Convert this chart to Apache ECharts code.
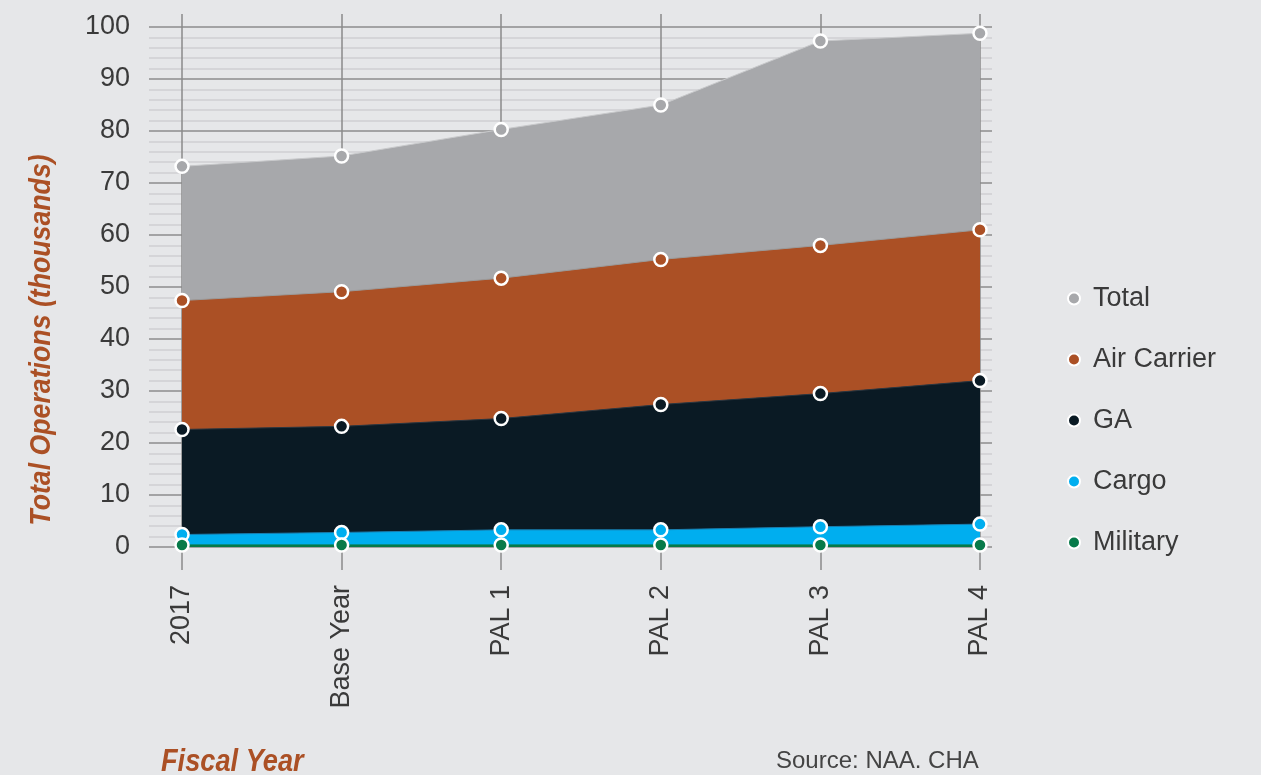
<!DOCTYPE html>
<html>
<head>
<meta charset="utf-8">
<script src="https://cdn.jsdelivr.net/npm/echarts@6/dist/echarts.min.js"></script>
<style>
  html, body { margin: 0; padding: 0; background: #e6e7e9; }
  #chart { width: 1261px; height: 775px; }
</style>
</head>
<body>
<div id="chart"></div>
<script>
var years = ['2017', 'Base Year', 'PAL 1', 'PAL 2', 'PAL 3', 'PAL 4'];
var total = [73.2, 75.2, 80.3, 85.0, 97.3, 98.8];
var airCarrier = [47.4, 49.1, 51.7, 55.3, 58.0, 61.0];
var ga = [22.6, 23.2, 24.7, 27.4, 29.5, 32.0];
var cargo = [2.4, 2.8, 3.3, 3.3, 3.9, 4.4];
var military = [0.4, 0.4, 0.4, 0.4, 0.4, 0.4];

var yTicks = [0, 10, 20, 30, 40, 50, 60, 70, 80, 90, 100];

var colors = {
    total: '#a7a8ab',
    air: '#ab5025',
    ga: '#0a1a24',
    cargo: '#00aeef',
    military: '#077a4a'
};

var font = "'Liberation Sans', Arial, sans-serif";
var textColor = '#3a3a3a';

function areaSeries(name, data, color, edge) {
    return {
        name: name,
        type: 'line',
        xAxisIndex: 1,
        yAxisIndex: 1,
        data: data,
        symbol: 'circle',
        symbolSize: 13,
        showSymbol: true,
        itemStyle: { color: color, borderColor: '#ffffff', borderWidth: 2.5 },
        lineStyle: { color: edge, width: 1 },
        areaStyle: { color: color, opacity: 1 },
        emphasis: { disabled: true }
    };
}

var chart = echarts.init(document.getElementById('chart'));
var option = {
    backgroundColor: '#e6e7e9',
    animation: false,
    textStyle: { fontFamily: font },
    graphic: [
        {
            type: 'text',
            x: 42,
            y: 340,
            rotation: Math.PI / 2,
            scaleX: 0.89,
            style: {
                text: 'Total Operations (thousands)',
                fontFamily: font,
                fontSize: 30,
                fontWeight: 'bold',
                fontStyle: 'italic',
                fill: '#ab5025',
                align: 'center',
                verticalAlign: 'middle'
            }
        },
        {
            type: 'text',
            x: 161,
            y: 762,
            scaleX: 0.85,
            style: {
                text: 'Fiscal Year',
                fontFamily: font,
                fontSize: 32,
                fontWeight: 'bold',
                fontStyle: 'italic',
                fill: '#ab5025',
                align: 'left',
                verticalAlign: 'middle'
            }
        },
        {
            type: 'text',
            x: 776,
            y: 761,
            style: {
                text: 'Source: NAA. CHA',
                fontFamily: font,
                fontSize: 24,
                fill: '#444444',
                align: 'left',
                verticalAlign: 'middle'
            }
        }
    ],
    legend: {
        orient: 'vertical',
        left: 1062,
        top: 280,
        icon: 'circle',
        itemWidth: 12,
        itemHeight: 12,
        itemGap: 34,
        data: ['Total', 'Air Carrier', 'GA', 'Cargo', 'Military'],
        textStyle: { fontSize: 27, color: textColor, fontFamily: font, padding: [0, 0, 0, 8] }
    },
    grid: [
        { left: 149, right: 269, top: 27, bottom: 228 },
        { left: 182, right: 281, top: 14, bottom: 228 }
    ],
    xAxis: [
        {
            gridIndex: 0,
            type: 'value',
            show: false
        },
        {
            gridIndex: 1,
            type: 'category',
            data: years,
            boundaryGap: false,
            axisLine: { show: false },
            axisTick: { show: true, length: 23, lineStyle: { color: '#8a8a8a', width: 1.5 } },
            splitLine: { show: true, lineStyle: { color: '#8a8a8a', width: 1.5 } },
            axisLabel: {
                rotate: 90,
                margin: 38,
                fontSize: 27,
                color: textColor,
                fontFamily: font
            }
        }
    ],
    yAxis: [
        {
            gridIndex: 0,
            type: 'value',
            min: yTicks[0],
            max: yTicks[yTicks.length - 1],
            interval: 10,
            axisLine: { show: false },
            axisTick: { show: false },
            axisLabel: { margin: 19, fontSize: 27, color: textColor, fontFamily: font },
            splitLine: { show: true, lineStyle: { color: '#8c8c8c', width: 1.5 } },
            minorTick: { show: false, splitNumber: 5 },
            minorSplitLine: { show: true, lineStyle: { color: '#cfd0d2', width: 1.5 } }
        },
        {
            gridIndex: 1,
            type: 'value',
            min: 0,
            max: 102.5,
            show: false
        }
    ],
    series: [
        areaSeries('Total', total, colors.total, '#c8c9cb'),
        areaSeries('Air Carrier', airCarrier, colors.air, '#9a9a9a'),
        areaSeries('GA', ga, colors.ga, '#2a3640'),
        areaSeries('Cargo', cargo, colors.cargo, '#1a7fb0'),
        areaSeries('Military', military, colors.military, colors.military)
    ]
};
chart.setOption(option);
</script>
</body>
</html>
